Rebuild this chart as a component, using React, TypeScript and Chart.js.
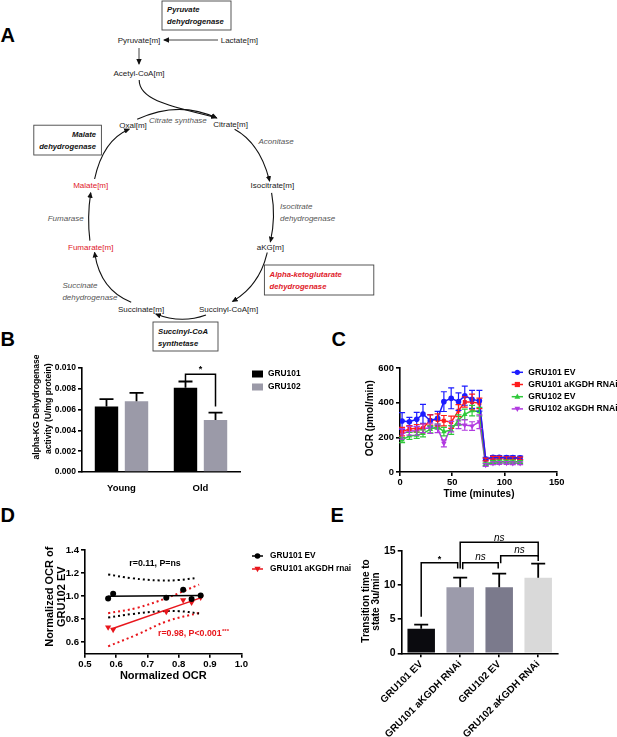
import React, { useEffect, useRef } from 'react';
import { Chart, registerables } from 'chart.js';

Chart.register(...registerables);

const FONT = '"Liberation Sans", Arial, Helvetica, sans-serif';

// ---------- Panel B data ----------
const bCategories = ['Young', 'Old'];
const bGRU101 = [0.0063, 0.0081];
const bGRU101Err = [0.0007, 0.0006];
const bGRU102 = [0.0068, 0.005];
const bGRU102Err = [0.0008, 0.0007];
const bYTicks = [0, 0.002, 0.004, 0.006, 0.008, 0.01];

// ---------- Panel C data ----------
const cTimes = [2, 9, 16, 22, 29, 36, 42, 49, 56, 62, 69, 76, 82, 89, 95, 102, 108, 115];
const cGRU101EV = [294, 290, 304, 335, 296, 310, 406, 425, 406, 440, 419, 411, 75, 85, 85, 83, 83, 82];
const cGRU101EVErr = [48, 25, 40, 55, 35, 40, 57, 60, 50, 55, 52, 60, 10, 10, 10, 10, 10, 10];
const cGRU101RNAi = [233, 248, 252, 252, 300, 300, 296, 287, 354, 404, 404, 396, 72, 82, 82, 80, 80, 78];
const cGRU101RNAiErr = [25, 20, 22, 25, 30, 35, 30, 35, 35, 30, 45, 30, 8, 8, 8, 8, 8, 8];
const cGRU102EV = [185, 208, 212, 223, 246, 262, 233, 242, 300, 333, 354, 348, 45, 58, 60, 60, 60, 58];
const cGRU102EVErr = [15, 20, 18, 20, 20, 15, 25, 25, 30, 30, 30, 25, 8, 8, 8, 8, 8, 8];
const cGRU102RNAi = [219, 238, 237, 252, 252, 252, 165, 262, 275, 271, 265, 290, 40, 50, 52, 52, 50, 50];
const cGRU102RNAiErr = [30, 25, 25, 25, 30, 25, 20, 30, 25, 30, 25, 40, 8, 8, 8, 8, 8, 8];
const cXTicks = [0, 50, 100, 150];
const cYTicks = [0, 200, 400, 600];

// ---------- Panel D data ----------
const dEVx = [0.574, 0.59, 0.76, 0.814, 0.841, 0.87];
const dEVy = [0.98, 1.02, 0.985, 1.055, 0.975, 1.005];
const dRNAiX = [0.574, 0.59, 0.76, 0.814, 0.841, 0.87];
const dRNAiY = [0.73, 0.71, 0.865, 0.965, 0.945, 0.99];
const dEVFitX = [0.574, 0.87];
const dEVFitY = [0.998, 1.006];
const dRNAiFitX = [0.584, 0.87];
const dRNAiFitY = [0.715, 0.985];
const dEVUpperX = [0.574, 0.65, 0.74, 0.8, 0.86];
const dEVUpperY = [1.188, 1.155, 1.136, 1.14, 1.159];
const dEVLowerX = [0.574, 0.65, 0.74, 0.8, 0.865];
const dEVLowerY = [0.815, 0.845, 0.868, 0.87, 0.85];
const dRNAiUpperX = [0.574, 0.667, 0.763, 0.865];
const dRNAiUpperY = [0.852, 0.899, 0.986, 1.1];
const dRNAiLowerX = [0.574, 0.667, 0.763, 0.865];
const dRNAiLowerY = [0.565, 0.667, 0.783, 0.855];
const dXTicks = [0.5, 0.6, 0.7, 0.8, 0.9, 1.0];
const dYTicks = [0.6, 0.8, 1.0, 1.2, 1.4];

// ---------- Panel E data ----------
const eCategories = ['GRU101 EV', 'GRU101 aKGDH RNAi', 'GRU102 EV', 'GRU102 aKGDH RNAi'];
const eValues = [3.6, 9.65, 9.65, 11.05];
const eErrors = [0.6, 1.4, 2.0, 2.05];
const eColors = ['#0b0b0f', '#9c9bab', '#7b7a8c', '#d9d9d9'];
const eYTicks = [0, 5, 10, 15];

const pts = (xs: number[], ys: number[]) => xs.map((x, i) => ({ x, y: ys[i] }));

// ---------- plugins ----------
function drawMarker(ctx: CanvasRenderingContext2D, kind: string, x: number, y: number, r: number, color: string) {
  ctx.save();
  ctx.fillStyle = color;
  ctx.beginPath();
  if (kind === 'circle') {
    ctx.arc(x, y, r, 0, Math.PI * 2);
  } else if (kind === 'rect') {
    ctx.rect(x - r, y - r, 2 * r, 2 * r);
  } else if (kind === 'triangle') {
    ctx.moveTo(x, y - r * 1.2);
    ctx.lineTo(x + r * 1.1, y + r * 0.8);
    ctx.lineTo(x - r * 1.1, y + r * 0.8);
    ctx.closePath();
  } else if (kind === 'triangleDown') {
    ctx.moveTo(x, y + r * 1.2);
    ctx.lineTo(x + r * 1.1, y - r * 0.8);
    ctx.lineTo(x - r * 1.1, y - r * 0.8);
    ctx.closePath();
  }
  ctx.fill();
  ctx.restore();
}

const errorBarPlugin = {
  id: 'errorBars',
  afterDatasetsDraw(chart: any) {
    const ctx = chart.ctx;
    chart.data.datasets.forEach((ds: any, i: number) => {
      if (!ds.errors) return;
      const meta = chart.getDatasetMeta(i);
      const yScale = chart.scales[meta.yAxisID];
      ctx.save();
      ctx.strokeStyle = ds.errorColor || '#000';
      ctx.lineWidth = ds.errorWidth || 1.5;
      meta.data.forEach((el: any, j: number) => {
        const raw = ds.data[j];
        const v = typeof raw === 'number' ? raw : raw.y;
        const e = ds.errors[j];
        const x = el.x;
        const yTop = yScale.getPixelForValue(v + e);
        const yBot = ds.errorBoth ? yScale.getPixelForValue(v - e) : el.y;
        const cw = (ds.capWidth || 8) / 2;
        ctx.beginPath();
        ctx.moveTo(x, yBot);
        ctx.lineTo(x, yTop);
        ctx.moveTo(x - cw, yTop);
        ctx.lineTo(x + cw, yTop);
        if (ds.errorBoth) {
          ctx.moveTo(x - cw, yBot);
          ctx.lineTo(x + cw, yBot);
        }
        ctx.stroke();
      });
      ctx.restore();
    });
  },
};

const bracketPlugin = {
  id: 'brackets',
  afterDraw(chart: any, _args: any, opts: any) {
    const items = (opts && opts.items) || [];
    const ctx = chart.ctx;
    const yScale = chart.scales.y;
    ctx.save();
    ctx.strokeStyle = '#000';
    ctx.fillStyle = '#000';
    ctx.lineWidth = opts.lineWidth || 1.5;
    items.forEach((b: any) => {
      const x1 = chart.getDatasetMeta(b.from[0]).data[b.from[1]].x + (b.dx1 || 0);
      const x2 = chart.getDatasetMeta(b.to[0]).data[b.to[1]].x + (b.dx2 || 0);
      const yh = yScale.getPixelForValue(b.y);
      const y1 = yScale.getPixelForValue(b.leg1);
      const y2 = yScale.getPixelForValue(b.leg2);
      ctx.beginPath();
      ctx.moveTo(x1, y1);
      ctx.lineTo(x1, yh);
      ctx.lineTo(x2, yh);
      ctx.lineTo(x2, y2);
      ctx.stroke();
      ctx.font = b.font;
      ctx.textAlign = 'center';
      ctx.textBaseline = 'middle';
      ctx.fillText(b.label, (x1 + x2) / 2, yScale.getPixelForValue(b.labelY));
    });
    ctx.restore();
  },
};

const textPlugin = {
  id: 'textItems',
  afterDraw(chart: any, _args: any, opts: any) {
    const items = (opts && opts.items) || [];
    const ctx = chart.ctx;
    items.forEach((it: any) => {
      ctx.save();
      ctx.translate(it.x, it.y);
      if (it.rotate) ctx.rotate(it.rotate);
      ctx.font = it.font;
      ctx.fillStyle = it.color || '#000';
      ctx.textAlign = it.align || 'center';
      ctx.textBaseline = 'middle';
      ctx.fillText(it.text, 0, 0);
      ctx.restore();
    });
  },
};

const legendPlugin = {
  id: 'customLegend',
  afterDraw(chart: any, _args: any, opts: any) {
    if (!opts || !opts.items) return;
    const ctx = chart.ctx;
    ctx.save();
    opts.items.forEach((it: any, i: number) => {
      const y = opts.y + i * opts.rowH;
      if (it.kind === 'box') {
        ctx.fillStyle = it.color;
        ctx.fillRect(opts.x, y - opts.boxH / 2, opts.boxW, opts.boxH);
      } else {
        ctx.strokeStyle = it.color;
        ctx.lineWidth = opts.lineW || 1.5;
        ctx.beginPath();
        ctx.moveTo(opts.x, y);
        ctx.lineTo(opts.x + opts.boxW, y);
        ctx.stroke();
        drawMarker(ctx, it.marker, opts.x + opts.boxW / 2, y, opts.markerR || 2.8, it.color);
      }
      ctx.fillStyle = '#000';
      ctx.font = opts.font;
      ctx.textAlign = 'left';
      ctx.textBaseline = 'middle';
      ctx.fillText(it.label, opts.textX, y);
    });
    ctx.restore();
  },
};

const PLUGINS = [errorBarPlugin, bracketPlugin, textPlugin, legendPlugin];

const bold = (size: number) => `bold ${size}px ${FONT}`;

function axisBase(size: number, fixedTicks?: number[], decimals?: number) {
  const o: any = {
    border: { display: true, color: '#000', width: 1.6 },
    grid: { display: true, drawOnChartArea: false, drawTicks: true, tickLength: 4, color: '#000', lineWidth: 1.6 },
    ticks: { color: '#000', font: { family: FONT, size, weight: 'bold' }, padding: 2 },
  };
  if (fixedTicks) {
    o.afterBuildTicks = (s: any) => {
      s.ticks = fixedTicks.map((v) => ({ value: v }));
    };
  }
  if (decimals !== undefined) {
    o.ticks.callback = (v: any) => Number(v).toFixed(decimals);
  }
  return o;
}

// ---------- configs ----------
function configB(): any {
  const xAxis = axisBase(9.5);
  xAxis.grid = { display: false };
  xAxis.afterFit = (s: any) => { s.height = 28; };
  xAxis.ticks.padding = 3;
  const yAxis = axisBase(8.5, bYTicks, 3);
  yAxis.min = 0;
  yAxis.max = 0.01;
  yAxis.afterFit = (s: any) => { s.width = 82; };
  const datasets = [
    { label: 'GRU101', data: bGRU101, errors: bGRU101Err, backgroundColor: '#000000', barPercentage: 0.78, categoryPercentage: 0.76, errorColor: '#000', errorWidth: 1.8, capWidth: 14 },
    { label: 'GRU102', data: bGRU102, errors: bGRU102Err, backgroundColor: '#9b9aa8', barPercentage: 0.78, categoryPercentage: 0.76, errorColor: '#000', errorWidth: 1.8, capWidth: 14 },
  ];
  return {
    type: 'bar',
    data: { labels: bCategories, datasets },
    options: {
      responsive: false,
      animation: false,
      layout: { padding: { top: 13, right: 80, left: 0, bottom: 0 } },
      scales: { x: xAxis, y: yAxis },
      plugins: {
        legend: { display: false },
        tooltip: { enabled: false },
        brackets: {
          lineWidth: 1.5,
          items: [{ from: [0, 1], to: [1, 1], y: 0.0094, leg1: 0.00865, leg2: 0.0063, label: '*', labelY: 0.0099, font: bold(9) }],
        },
        textItems: {
          items: [
            { text: 'alpha-KG Dehydrogenase', x: 37, y: 52, rotate: -Math.PI / 2, font: bold(8.6) },
            { text: 'activity (U/mg protein)', x: 49, y: 53.7, rotate: -Math.PI / 2, font: bold(8.6) },
          ],
        },
        customLegend: {
          x: 252, y: 19, rowH: 13, boxW: 11, boxH: 7, textX: 268, font: bold(8.4),
          items: datasets.map((d) => ({ kind: 'box', color: d.backgroundColor, label: d.label })),
        },
      },
    },
    plugins: PLUGINS,
  };
}

function configC(): any {
  const xAxis = axisBase(9.4, cXTicks, 0);
  xAxis.type = 'linear';
  xAxis.min = 0;
  xAxis.max = 150;
  xAxis.afterFit = (s: any) => { s.height = 28; };
  xAxis.ticks.padding = 1;
  const yAxis = axisBase(9.4, cYTicks, 0);
  yAxis.min = 0;
  yAxis.max = 600;
  yAxis.afterFit = (s: any) => { s.width = 80; };
  const mk = (label: string, vals: number[], errs: number[], color: string, style: string, radius: number, rotation = 0) => ({
    label, data: pts(cTimes, vals), errors: errs, errorBoth: true, errorColor: color, errorWidth: 1.2, capWidth: 6,
    borderColor: color, backgroundColor: color, borderWidth: 1.5, pointStyle: style, pointRadius: radius,
    pointRotation: rotation, pointBorderWidth: 0, tension: 0, marker: style === 'triangle' && rotation ? 'triangleDown' : style,
  });
  const datasets = [
    mk('GRU101 EV', cGRU101EV, cGRU101EVErr, '#1c1cff', 'circle', 2.8),
    mk('GRU101 aKGDH RNAi', cGRU101RNAi, cGRU101RNAiErr, '#ff1c1c', 'rect', 2.8),
    mk('GRU102 EV', cGRU102EV, cGRU102EVErr, '#2fc93a', 'triangle', 3.2),
    mk('GRU102 aKGDH RNAi', cGRU102RNAi, cGRU102RNAiErr, '#b13ae0', 'triangle', 3.2, 180),
  ];
  return {
    type: 'line',
    data: { datasets },
    options: {
      responsive: false,
      animation: false,
      layout: { padding: { top: 13, right: 60.3, left: 0, bottom: 0 } },
      scales: { x: xAxis, y: yAxis },
      plugins: {
        legend: { display: false },
        tooltip: { enabled: false },
        textItems: {
          items: [
            { text: 'OCR (pmol/min)', x: 50, y: 63.3, rotate: -Math.PI / 2, font: bold(10) },
            { text: 'Time (minutes)', x: 159, y: 139, font: bold(10) },
          ],
        },
        customLegend: {
          x: 191.7, y: 17.3, rowH: 12.2, boxW: 11.3, textX: 208.3, font: bold(8.6), lineW: 1.5, markerR: 2.6,
          items: datasets.map((d) => ({ kind: 'line', color: d.borderColor, label: d.label, marker: d.marker })),
        },
      },
    },
    plugins: PLUGINS,
  };
}

function configD(): any {
  const xAxis = axisBase(9.6, dXTicks, 1);
  xAxis.type = 'linear';
  xAxis.min = 0.5;
  xAxis.max = 1.0;
  xAxis.afterFit = (s: any) => { s.height = 41.2; };
  xAxis.ticks.padding = 1;
  const yAxis = axisBase(9.6, dYTicks, 1);
  yAxis.min = 0.5;
  yAxis.max = 1.4;
  yAxis.afterFit = (s: any) => { s.width = 85; };
  const black = '#000000';
  const red = '#e8161c';
  const dotted = (data: any, color: string) => ({
    data, showLine: true, pointRadius: 0, borderColor: color, borderWidth: 2, borderDash: [2, 3], tension: 0.4, order: 2,
  });
  const datasets = [
    { label: 'GRU101 EV', data: pts(dEVx, dEVy), pointStyle: 'circle', pointRadius: 3, backgroundColor: black, borderColor: black, pointBorderWidth: 0, showLine: false, order: 0, marker: 'circle' },
    { label: 'GRU101 aKGDH rnai', data: pts(dRNAiX, dRNAiY), pointStyle: 'triangle', pointRotation: 180, pointRadius: 3.6, backgroundColor: red, borderColor: red, pointBorderWidth: 0, showLine: false, order: 0, marker: 'triangleDown' },
    { data: pts(dEVFitX, dEVFitY), showLine: true, pointRadius: 0, borderColor: black, borderWidth: 1.5, order: 1 },
    { data: pts(dRNAiFitX, dRNAiFitY), showLine: true, pointRadius: 0, borderColor: red, borderWidth: 1.5, order: 1 },
    dotted(pts(dEVUpperX, dEVUpperY), black),
    dotted(pts(dEVLowerX, dEVLowerY), black),
    dotted(pts(dRNAiUpperX, dRNAiUpperY), red),
    dotted(pts(dRNAiLowerX, dRNAiLowerY), red),
  ];
  return {
    type: 'scatter',
    data: { datasets },
    options: {
      responsive: false,
      animation: false,
      layout: { padding: { top: 20, right: 128.7, left: 0, bottom: 0 } },
      scales: { x: xAxis, y: yAxis },
      plugins: {
        legend: { display: false },
        tooltip: { enabled: false },
        textItems: {
          items: [
            { text: 'Normalized OCR of', x: 50, y: 66.7, rotate: -Math.PI / 2, font: bold(11) },
            { text: 'GRU102 EV', x: 62, y: 66.7, rotate: -Math.PI / 2, font: bold(11) },
            { text: 'Normalized OCR', x: 163.3, y: 145.7, font: bold(11) },
            { text: 'r=0.11, P=ns', x: 155, y: 33.3, font: bold(8.8) },
            { text: 'r=0.98, P<0.001', x: 158, y: 103.3, font: bold(8.8), color: red, align: 'left' },
            { text: '***', x: 222, y: 101.5, font: bold(6), color: red, align: 'left' },
          ],
        },
        customLegend: {
          x: 252, y: 26, rowH: 13, boxW: 11, textX: 270, font: bold(8.3), lineW: 1.5, markerR: 2.8,
          items: datasets.slice(0, 2).map((d: any) => ({ kind: 'line', color: d.borderColor, label: d.label, marker: d.marker })),
        },
      },
    },
    plugins: PLUGINS,
  };
}

function configE(): any {
  const xAxis = axisBase(10);
  xAxis.grid.offset = false;
  xAxis.ticks.minRotation = 45;
  xAxis.ticks.maxRotation = 45;
  xAxis.ticks.autoSkip = false;
  xAxis.ticks.padding = 1;
  xAxis.afterFit = (s: any) => { s.height = 83.7; };
  const yAxis = axisBase(10.5, eYTicks, 0);
  yAxis.min = 0;
  yAxis.max = 15;
  yAxis.afterFit = (s: any) => { s.width = 81.7; };
  const nsFont = `italic 10px ${FONT}`;
  return {
    type: 'bar',
    data: {
      labels: eCategories,
      datasets: [
        { data: eValues, errors: eErrors, backgroundColor: eColors, barPercentage: 0.705, categoryPercentage: 1, errorColor: '#000', errorWidth: 1.8, capWidth: 14 },
      ],
    },
    options: {
      responsive: false,
      animation: false,
      layout: { padding: { top: 20.7, right: 59.3, left: 0, bottom: 0 } },
      scales: { x: xAxis, y: yAxis },
      plugins: {
        legend: { display: false },
        tooltip: { enabled: false },
        brackets: {
          lineWidth: 1.5,
          items: [
            { from: [0, 0], to: [0, 1], dx2: -2.5, y: 13.24, leg1: 5.35, leg2: 12.4, label: '*', labelY: 13.7, font: bold(9) },
            { from: [0, 1], to: [0, 2], dx1: 2.5, dx2: -1, y: 13.24, leg1: 12.3, leg2: 12.4, label: 'ns', labelY: 14.05, font: nsFont },
            { from: [0, 2], to: [0, 3], dx1: 1.5, y: 14.27, leg1: 13.15, leg2: 13.5, label: 'ns', labelY: 15.1, font: nsFont },
            { from: [0, 1], to: [0, 3], y: 16.23, leg1: 12.4, leg2: 14.1, label: 'ns', labelY: 16.85, font: nsFont },
          ],
        },
        textItems: {
          items: [
            { text: 'Transition time to', x: 46, y: 71, rotate: -Math.PI / 2, font: bold(10) },
            { text: 'state 3u/min', x: 56.5, y: 71.5, rotate: -Math.PI / 2, font: bold(10) },
          ],
        },
      },
    },
    plugins: PLUGINS,
  };
}

function ChartCanvas({ make, left, top, width, height }: { make: () => any; left: number; top: number; width: number; height: number }) {
  const ref = useRef<HTMLCanvasElement>(null);
  useEffect(() => {
    const chart = new Chart(ref.current as HTMLCanvasElement, make());
    return () => chart.destroy();
  }, []);
  return (
    <canvas ref={ref} width={width} height={height} style={{ position: 'absolute', left, top, width, height }} />
  );
}

// ---------- Panel A diagram ----------
const META_FONT = 8;
function PanelA() {
  const t = (x: number, y: number, s: string, opts: any = {}) => (
    <text
      x={x}
      y={y}
      fontFamily={FONT}
      fontSize={opts.size || META_FONT}
      fontStyle={opts.italic ? 'italic' : 'normal'}
      fontWeight={opts.bold ? 'bold' : 'normal'}
      fill={opts.color || '#222'}
      textAnchor={opts.anchor || 'middle'}
      dominantBaseline="central"
    >
      {s}
    </text>
  );
  const enz = { italic: true, color: '#555', anchor: 'start' };
  const boxT = { italic: true, bold: true, color: '#111', anchor: 'start', size: 7.7 };
  const red = '#e0202a';
  const arc = { fill: 'none', stroke: '#111', strokeWidth: 1.1, markerEnd: 'url(#ah)' };
  return (
    <g>
      <defs>
        <marker id="ah" markerWidth="6" markerHeight="6" refX="5" refY="3" orient="auto" markerUnits="userSpaceOnUse">
          <path d="M0,0.3 L6,3 L0,5.7 z" fill="#111" />
        </marker>
      </defs>
      {/* boxes */}
      <rect x={162} y={1} width={69} height={29} fill="#fff" stroke="#444" strokeWidth={0.9} />
      {t(167, 9.5, 'Pyruvate', boxT)}
      {t(167, 21.5, 'dehydrogenase', boxT)}
      <rect x={33.8} y={125.2} width={67.6} height={29.8} fill="#fff" stroke="#444" strokeWidth={0.9} />
      {t(96, 134, 'Malate', { ...boxT, anchor: 'end' })}
      {t(96, 146.3, 'dehydrogenase', { ...boxT, anchor: 'end' })}
      <rect x={264.4} y={265} width={109.4} height={30} fill="#fff" stroke="#444" strokeWidth={0.9} />
      {t(269.6, 274.4, 'Alpha-ketoglutarate', { ...boxT, color: red })}
      {t(269.6, 286.3, 'dehydrogenase', { ...boxT, color: red })}
      <rect x={153} y={322} width={65} height={29} fill="#fff" stroke="#444" strokeWidth={0.9} />
      {t(158, 331, 'Succinyl-CoA', boxT)}
      {t(158, 343, 'synthetase', boxT)}

      {/* arrows */}
      <path d="M218,40 L164,40" {...arc} strokeWidth={0.8} />
      <path d="M139,48 L139,64" {...arc} strokeWidth={0.8} />
      <path d="M139.2,80 C139,100 170,106 216,117.5" {...arc} />
      <path d="M137.2,119.3 Q179,100 216.7,118.1" {...arc} />
      <path d="M234.6,129.2 Q260,143 269.6,181" {...arc} />
      <path d="M271.6,192.8 Q276,217 270.4,241.7" {...arc} />
      <path d="M267.2,252.5 Q260,285 232.6,301.4" {...arc} />
      <path d="M206,315 Q181,324 155.9,314" {...arc} />
      <path d="M131.2,302.2 Q100,290 94.6,252.5" {...arc} />
      <path d="M89.9,240.6 Q87,217 90.7,192.8" {...arc} />
      <path d="M94.6,179 Q103,140 129.2,129.2" {...arc} />

      {/* metabolites */}
      {t(139, 40, 'Pyruvate[m]')}
      {t(220.7, 40, 'Lactate[m]', { anchor: 'start' })}
      {t(139, 73.5, 'Acetyl-CoA[m]')}
      {t(133, 125, 'Oxal[m]')}
      {t(230.6, 124, 'Citrate[m]')}
      {t(272.4, 185.7, 'Isocitrate[m]')}
      {t(270.4, 247.3, 'aKG[m]')}
      {t(228.6, 309, 'Succinyl-CoA[m]')}
      {t(141, 309, 'Succinate[m]')}
      {t(90.7, 247.3, 'Fumarate[m]', { color: red })}
      {t(90.7, 185.7, 'Malate[m]', { color: red })}

      {/* enzymes */}
      {t(149, 120.5, 'Citrate synthase', enz)}
      {t(258.5, 141, 'Aconitase', enz)}
      {t(280, 206, 'Isocitrate', enz)}
      {t(280, 218, 'dehydrogenase', enz)}
      {t(62.4, 285.5, 'Succinate', enz)}
      {t(62.4, 297.4, 'dehydrogenase', enz)}
      {t(47.7, 218.7, 'Fumarase', enz)}
    </g>
  );
}

export default function App() {
  const letter = (x: number, y: number, s: string) => (
    <text x={x} y={y} fontFamily={FONT} fontSize={20} fontWeight="bold" fill="#000" dominantBaseline="central">
      {s}
    </text>
  );
  return (
    <div style={{ position: 'absolute', left: 0, top: 0, width: 617, height: 737, background: '#fff', overflow: 'hidden' }}>
      <svg width={617} height={737} style={{ position: 'absolute', left: 0, top: 0 }}>
        <PanelA />
        {letter(0.5, 35, 'A')}
        {letter(0.5, 338.5, 'B')}
        {letter(331.5, 338.5, 'C')}
        {letter(0.5, 514.5, 'D')}
        {letter(330.5, 515, 'E')}
      </svg>
      <ChartCanvas make={configB} left={0} top={355} width={320} height={145} />
      <ChartCanvas make={configC} left={320} top={355} width={297} height={145} />
      <ChartCanvas make={configD} left={0} top={530} width={370} height={165} />
      <ChartCanvas make={configE} left={320} top={530} width={297} height={207} />
    </div>
  );
}
